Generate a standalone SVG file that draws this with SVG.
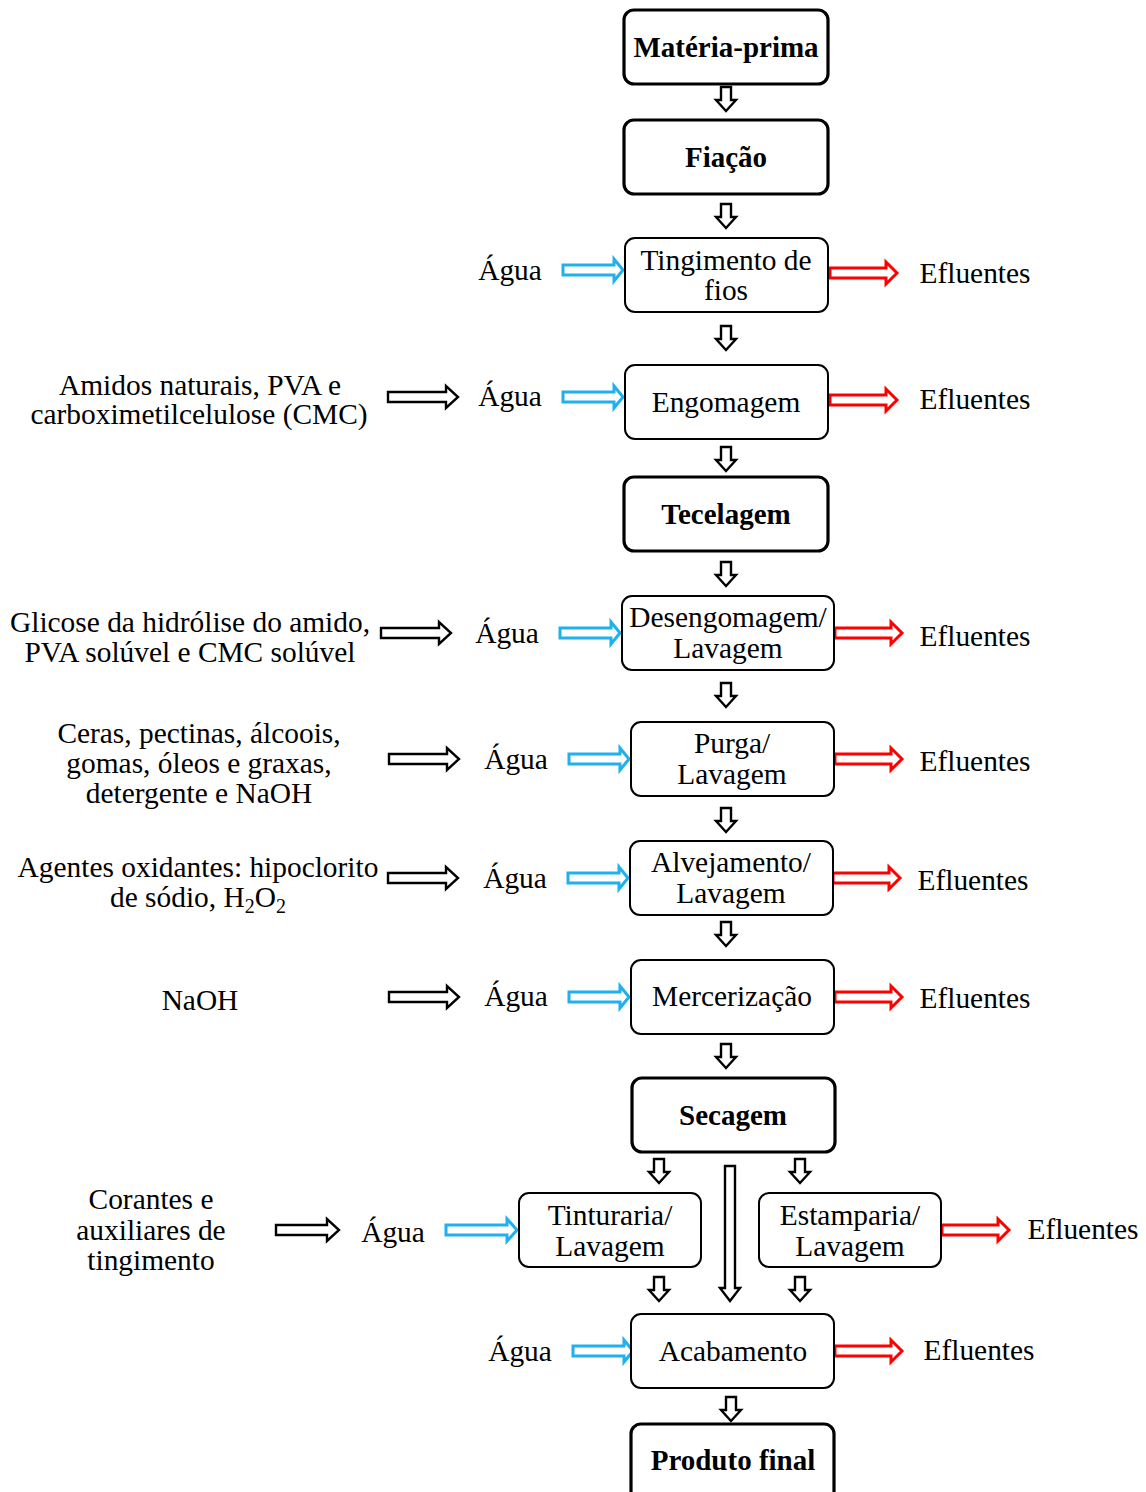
<svg xmlns="http://www.w3.org/2000/svg" xmlns:xlink="http://www.w3.org/1999/xlink" width="1146" height="1492" viewBox="0 0 1146 1492">
<style>
text{font-family:"Liberation Serif","Times New Roman",serif;font-size:29.4px;fill:#000;text-anchor:middle}
.b{font-weight:bold;font-size:29px}
.box{fill:#fff;stroke:#000;stroke-width:2}
.bbox{fill:#fff;stroke:#000;stroke-width:3.2}
.ak{fill:#fff;stroke:#000;stroke-width:2.4}
.ab{fill:#fff;stroke:#1fb0ee;stroke-width:3}
.ar{fill:#fff;stroke:#ff0000;stroke-width:3}
</style>
<defs>
<path id="dn" d="M-5,0 H5 V13 H10 L0,24 L-10,13 H-5 Z"/>
<path id="hb" d="M0,-5 H51 V-11 L60,0 L51,11 V5 H0 Z"/>
<path id="hr" d="M0,-5 H56 V-11 L67,0 L56,11 V5 H0 Z"/>
<path id="hk" d="M0,-5 H58 V-11 L70,0 L58,11 V5 H0 Z"/>
</defs>

<g id="connectors">
<use href="#dn" class="ak" x="726" y="87"/>
<use href="#dn" class="ak" x="726" y="204"/>
<use href="#dn" class="ak" x="726" y="326"/>
<use href="#dn" class="ak" x="726" y="447"/>
<use href="#dn" class="ak" x="726" y="562"/>
<use href="#dn" class="ak" x="726" y="683"/>
<use href="#dn" class="ak" x="726" y="808"/>
<use href="#dn" class="ak" x="726" y="922"/>
<use href="#dn" class="ak" x="726" y="1044"/>
<use href="#dn" class="ak" x="659" y="1159"/>
<use href="#dn" class="ak" x="800" y="1159"/>
<use href="#dn" class="ak" x="659" y="1277"/>
<use href="#dn" class="ak" x="800" y="1277"/>
<use href="#dn" class="ak" x="731" y="1397"/>
<path class="ak" d="M725,1166 H735 V1288 H740 L730,1301 L720,1288 H725 Z"/>

<use href="#hb" class="ab" x="563" y="270"/>
<use href="#hb" class="ab" x="563" y="397"/>
<use href="#hb" class="ab" x="560" y="633"/>
<use href="#hb" class="ab" x="569" y="759"/>
<use href="#hb" class="ab" x="568" y="878"/>
<use href="#hb" class="ab" x="569" y="997"/>
<path class="ab" d="M446,1225 H507 V1219 L517,1230 L507,1241 V1235 H446 Z"/>
<use href="#hb" class="ab" x="573" y="1351"/>

<use href="#hr" class="ar" x="830" y="273"/>
<use href="#hr" class="ar" x="830" y="400"/>
<use href="#hr" class="ar" x="835" y="633"/>
<use href="#hr" class="ar" x="835" y="759"/>
<use href="#hr" class="ar" x="833" y="878"/>
<use href="#hr" class="ar" x="835" y="997"/>
<use href="#hr" class="ar" x="942" y="1230"/>
<use href="#hr" class="ar" x="835" y="1351"/>

<use href="#hk" class="ak" x="388" y="397"/>
<use href="#hk" class="ak" x="381" y="633"/>
<use href="#hk" class="ak" x="389" y="759"/>
<use href="#hk" class="ak" x="388" y="878"/>
<use href="#hk" class="ak" x="389" y="997"/>
<path class="ak" d="M276,1225 H327 V1219 L339,1230 L327,1241 V1235 H276 Z"/>
</g>

<g id="materia-prima"><rect class="bbox" x="624" y="10" width="204" height="74" rx="10"/><text class="b" x="726" y="57">Matéria-prima</text></g>
<g id="fiacao"><rect class="bbox" x="624" y="120" width="204" height="74" rx="10"/><text class="b" x="726" y="167">Fiação</text></g>
<g id="tingimento-fios"><rect class="box" x="625" y="238" width="203" height="74" rx="10"/><text x="726" y="270">Tingimento de</text><text x="726" y="300">fios</text></g>
<g id="engomagem"><rect class="box" x="625" y="365" width="203" height="74" rx="10"/><text x="726" y="412">Engomagem</text></g>
<g id="tecelagem"><rect class="bbox" x="624" y="477" width="204" height="74" rx="10"/><text class="b" x="726" y="524">Tecelagem</text></g>
<g id="desengomagem"><rect class="box" x="622" y="596" width="212" height="74" rx="10"/><text x="728" y="627">Desengomagem/</text><text x="728" y="658">Lavagem</text></g>
<g id="purga"><rect class="box" x="631" y="722" width="203" height="74" rx="10"/><text x="732" y="753">Purga/</text><text x="732" y="784">Lavagem</text></g>
<g id="alvejamento"><rect class="box" x="630" y="841" width="203" height="74" rx="10"/><text x="731" y="872">Alvejamento/</text><text x="731" y="903">Lavagem</text></g>
<g id="mercerizacao"><rect class="box" x="631" y="960" width="203" height="74" rx="10"/><text x="732" y="1006">Mercerização</text></g>
<g id="secagem"><rect class="bbox" x="632" y="1078" width="203" height="74" rx="10"/><text class="b" x="733" y="1125">Secagem</text></g>
<g id="tinturaria"><rect class="box" x="519" y="1193" width="182" height="74" rx="10"/><text x="610" y="1225">Tinturaria/</text><text x="610" y="1256">Lavagem</text></g>
<g id="estamparia"><rect class="box" x="759" y="1193" width="182" height="74" rx="10"/><text x="850" y="1225">Estamparia/</text><text x="850" y="1256">Lavagem</text></g>
<g id="acabamento"><rect class="box" x="631" y="1314" width="203" height="74" rx="10"/><text x="733" y="1361">Acabamento</text></g>
<g id="produto-final"><rect class="bbox" x="631" y="1424" width="203" height="80" rx="10"/><text class="b" x="733" y="1470">Produto final</text></g>

<g id="labels">
<text x="510" y="280">Água</text>
<text x="975" y="283">Efluentes</text>
<text x="510" y="406">Água</text>
<text x="975" y="409">Efluentes</text>
<text x="200" y="395">Amidos naturais, PVA e</text>
<text x="199" y="424">carboximetilcelulose (CMC)</text>
<text x="190" y="632">Glicose da hidrólise do amido,</text>
<text x="190" y="662">PVA solúvel e CMC solúvel</text>
<text x="507" y="643">Água</text>
<text x="975" y="646">Efluentes</text>
<text x="199" y="743">Ceras, pectinas, álcoois,</text>
<text x="199" y="773">gomas, óleos e graxas,</text>
<text x="199" y="803">detergente e NaOH</text>
<text x="516" y="769">Água</text>
<text x="975" y="771">Efluentes</text>
<text x="198" y="877">Agentes oxidantes: hipoclorito</text>
<text x="198" y="907">de sódio, H<tspan font-size="20" dy="6">2</tspan><tspan dy="-6">O</tspan><tspan font-size="20" dy="6">2</tspan></text>
<text x="515" y="888">Água</text>
<text x="973" y="890">Efluentes</text>
<text x="200" y="1010">NaOH</text>
<text x="516" y="1006">Água</text>
<text x="975" y="1008">Efluentes</text>
<text x="151" y="1209">Corantes e</text>
<text x="151" y="1240">auxiliares de</text>
<text x="151" y="1270">tingimento</text>
<text x="393" y="1242">Água</text>
<text x="1083" y="1239">Efluentes</text>
<text x="520" y="1361">Água</text>
<text x="979" y="1360">Efluentes</text>
</g>
</svg>
